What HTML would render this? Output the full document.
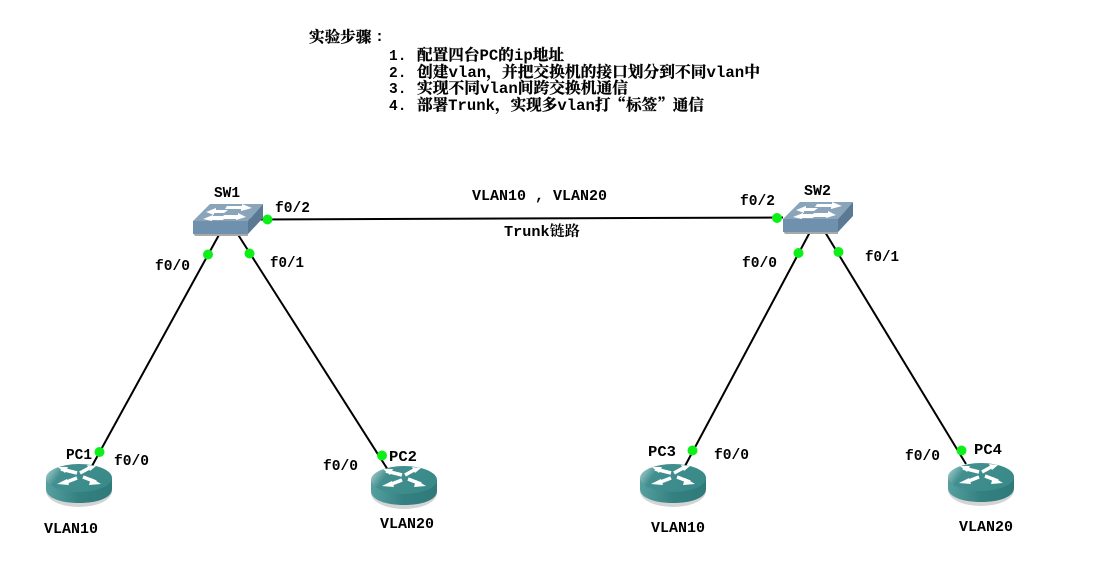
<!DOCTYPE html>
<html><head><meta charset="utf-8"><style>
html,body{margin:0;padding:0;background:#fff;width:1098px;height:585px;overflow:hidden}
svg{display:block}
text{font-family:"Liberation Mono","Noto Serif CJK SC",monospace;font-weight:bold;fill:#000;font-size:14.500px}
.c tspan.z,.c text.z{font-family:"Noto Serif CJK SC","Noto Sans CJK SC",serif;stroke:#000;stroke-width:.3px}
</style></head><body>
<svg width="1098" height="585" viewBox="0 0 1098 585" xmlns="http://www.w3.org/2000/svg">
<defs>
<linearGradient id="rt" x1="0" y1="0" x2="1" y2="0.3"><stop offset="0" stop-color="#c0dcdc"/><stop offset="0.3" stop-color="#428f8f"/><stop offset="1" stop-color="#3a8a8a"/></linearGradient>
<linearGradient id="rs" x1="0" y1="0" x2="1" y2="0"><stop offset="0" stop-color="#55a0a0"/><stop offset="0.5" stop-color="#348080"/><stop offset="1" stop-color="#2f7a7a"/></linearGradient>
<g id="router">
<ellipse cx="33" cy="27" rx="33" ry="16" fill="#d4d4d4"/>
<path d="M0 14 V25 C0 34 15 39 33 39 C51 39 66 34 66 25 V14Z" fill="url(#rs)"/>
<ellipse cx="33" cy="14" rx="33" ry="14" fill="url(#rt)"/>
<g stroke="#fff" stroke-width="3.500" fill="none"><path d="M15 5 L31 9"/><path d="M45 3 L34 9"/><path d="M18 19 L31 14"/><path d="M50 18 L37 13"/></g>
<g fill="#fff"><path d="M11 20 L21 15 L23 21Z"/><path d="M55 20 L45 14 L43 21Z"/><path d="M12 3 L22 3 L19 9Z"/><path d="M50 2 L41 1 L44 7Z"/></g>
</g>
<g id="switch">
<path d="M1 33 H56 V36 H3Z" fill="#a9a9a9"/>
<path d="M1 21 H56 V34 H1Z" fill="#6f91ad"/>
<path d="M1 21 L18 4 H71 L56 21Z" fill="#8aa4ba"/>
<path d="M56 21 L71 4 V18 L56 34Z" fill="#5a7a93"/>
<g fill="#fff"><path d="M14 12 L24 8 V10 H36 L32 13 H22 V15Z"/><path d="M35 6 H50 V4 L60 8 L49 11 V9 H33Z"/><path d="M11 19 L21 15 V16 H34 L31 20 H20 V21Z"/><path d="M32 15 H46 V13 L54 17 L44 20 V19 H29Z"/></g>
</g>
</defs>

<g stroke="#000" stroke-width="2" fill="none">
<line x1="248" y1="219.500" x2="783" y2="217.500"/>
<line x1="220" y1="233" x2="92" y2="466"/>
<line x1="237" y1="233" x2="388" y2="470"/>
<line x1="810" y1="232" x2="685" y2="466"/>
<line x1="825" y1="232" x2="966" y2="464"/>
</g>

<use href="#switch" x="192" y="200"/>
<use href="#switch" x="782" y="198"/>
<use href="#router" x="46" y="464"/>
<use href="#router" x="371" y="466"/>
<use href="#router" x="640" y="464"/>
<use href="#router" x="948" y="463"/>

<g fill="#0cf018">
<circle cx="267.500" cy="219.500" r="5"/>
<circle cx="208" cy="254.500" r="5"/>
<circle cx="249.500" cy="253.500" r="5"/>
<circle cx="777" cy="218" r="5"/>
<circle cx="798.500" cy="253" r="5"/>
<circle cx="838.500" cy="252" r="5"/>
<circle cx="99.500" cy="452" r="5"/>
<circle cx="382" cy="455.500" r="5"/>
<circle cx="692.500" cy="450.500" r="5"/>
<circle cx="961.500" cy="450.500" r="5"/>
</g>

<g class="c">
<text class="z" x="309" y="42" style="font-size:15.600px">实验步骤</text>
<text x="375" y="41" style="font-size:15px">:</text>
<text x="389" y="60" style="font-size:14.500px">1.</text>
<text x="389" y="77" style="font-size:14.500px">2.</text>
<text x="389" y="93" style="font-size:14.500px">3.</text>
<text x="389" y="110" style="font-size:14.500px">4.</text>
<text x="417" y="60" textLength="147" lengthAdjust="spacingAndGlyphs" style="font-size:15.500px"><tspan class="z">配置四台</tspan>PC<tspan class="z">的</tspan>ip<tspan class="z">地址</tspan></text>
<text x="417" y="77" textLength="343" lengthAdjust="spacingAndGlyphs" style="font-size:15.500px"><tspan class="z">创建</tspan>vlan<tspan class="z">，并把交换机的接口划分到不同</tspan>vlan<tspan class="z">中</tspan></text>
<text x="417" y="93" textLength="211" lengthAdjust="spacingAndGlyphs" style="font-size:15.500px"><tspan class="z">实现不同</tspan>vlan<tspan class="z">间跨交换机通信</tspan></text>
<text x="417" y="110" textLength="287" lengthAdjust="spacingAndGlyphs" style="font-size:15.500px"><tspan class="z">部署</tspan>Trunk<tspan class="z">，实现多</tspan>vlan<tspan class="z">打“标签”通信</tspan></text>
</g>

<g>
<text x="214" y="197" textLength="26" lengthAdjust="spacingAndGlyphs">SW1</text>
<text x="804" y="195" textLength="27" lengthAdjust="spacingAndGlyphs">SW2</text>
<text x="275" y="212" textLength="35" lengthAdjust="spacingAndGlyphs">f0/2</text>
<text x="740" y="205" textLength="35" lengthAdjust="spacingAndGlyphs">f0/2</text>
<text x="155" y="270" textLength="35" lengthAdjust="spacingAndGlyphs">f0/0</text>
<text x="270" y="267" textLength="34" lengthAdjust="spacingAndGlyphs">f0/1</text>
<text x="742" y="267" textLength="35" lengthAdjust="spacingAndGlyphs">f0/0</text>
<text x="865" y="261" textLength="34" lengthAdjust="spacingAndGlyphs">f0/1</text>
<text x="472" y="200" textLength="135" lengthAdjust="spacingAndGlyphs">VLAN10 , VLAN20</text>
<text x="504" y="236" textLength="76" lengthAdjust="spacingAndGlyphs">Trunk<tspan font-family="Noto Serif CJK SC">链路</tspan></text>
<text x="66" y="459" textLength="26" lengthAdjust="spacingAndGlyphs">PC1</text>
<text x="114" y="465" textLength="35" lengthAdjust="spacingAndGlyphs">f0/0</text>
<text x="389" y="461" textLength="28" lengthAdjust="spacingAndGlyphs">PC2</text>
<text x="323" y="470" textLength="35" lengthAdjust="spacingAndGlyphs">f0/0</text>
<text x="648" y="456" textLength="28" lengthAdjust="spacingAndGlyphs">PC3</text>
<text x="714" y="459" textLength="35" lengthAdjust="spacingAndGlyphs">f0/0</text>
<text x="974" y="454" textLength="28" lengthAdjust="spacingAndGlyphs">PC4</text>
<text x="905" y="460" textLength="35" lengthAdjust="spacingAndGlyphs">f0/0</text>
<text x="44" y="533" textLength="54" lengthAdjust="spacingAndGlyphs">VLAN10</text>
<text x="380" y="528" textLength="54" lengthAdjust="spacingAndGlyphs">VLAN20</text>
<text x="651" y="532" textLength="54" lengthAdjust="spacingAndGlyphs">VLAN10</text>
<text x="959" y="531" textLength="54" lengthAdjust="spacingAndGlyphs">VLAN20</text>
</g>
</svg>
</body></html>
